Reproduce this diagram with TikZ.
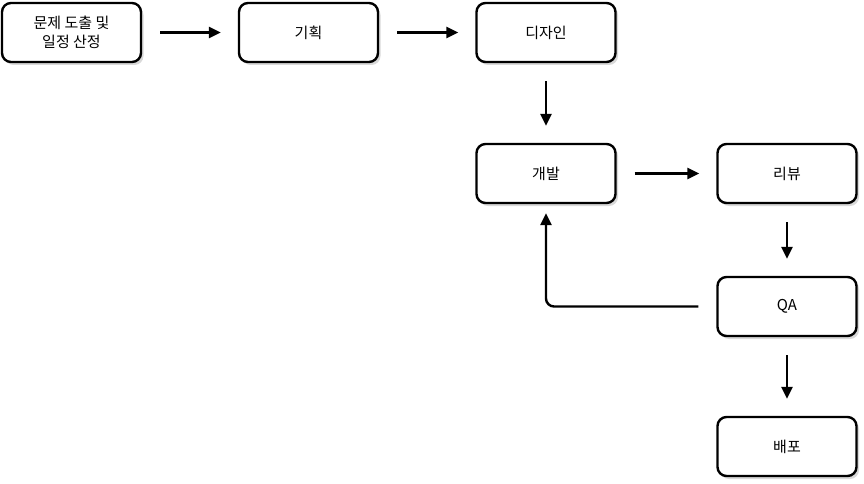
\documentclass[tikz,border=0pt]{standalone}
\usepackage{fontspec}
\setmainfont{Noto Sans CJK KR}
\usetikzlibrary{arrows.meta,shadows,positioning}
\begin{document}
\begin{tikzpicture}[x=1pt,y=-1pt,
  box/.style={draw=black,line width=2.4pt,rounded corners=9pt,fill=white,
    minimum width=139pt,minimum height=59pt,inner sep=0pt,align=center,
    font=\fontsize{15}{19}\selectfont,
    drop shadow={shadow xshift=2.5pt,shadow yshift=-3pt,opacity=0.3,fill=black!50}},
  flow/.style={line width=2.4pt,-{Triangle[length=12pt,width=11pt]},
    shorten <=18pt,shorten >=17pt}]
\useasboundingbox (0,0) rectangle (864,484);
\node[box] (b1) at (71.5,32.5) {문제 도출 및\\일정 산정};
\node[box] (b2) at (308.5,32.5) {기획};
\node[box] (b3) at (546,32.5) {디자인};
\node[box] (b4) at (546,173.5) {개발};
\node[box] (b5) at (787,173.5) {리뷰};
\node[box] (b6) at (787,306.5) {QA};
\node[box] (b7) at (787,446.5) {배포};
\draw[flow] (b1) -- (b2);
\draw[flow] (b2) -- (b3);
\draw[flow] (b3) -- (b4);
\draw[flow] (b4) -- (b5);
\draw[flow] (b5) -- (b6);
\draw[flow] (b6) -- (b7);
\draw[flow,shorten >=9pt,rounded corners=8pt] (b6.west) -- (b4.south |- b6.west) -- (b4.south);
\end{tikzpicture}
\end{document}
